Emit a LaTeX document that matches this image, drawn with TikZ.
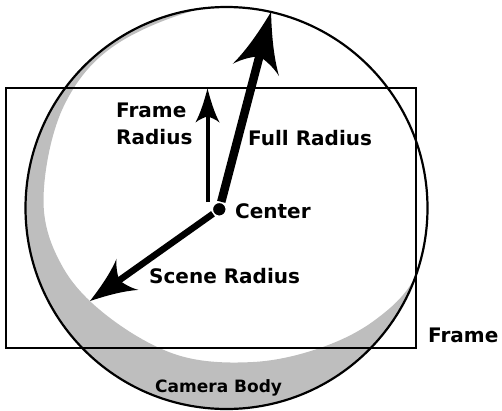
\documentclass[tikz,border=0pt]{standalone}
\usepackage{fontspec}
\setmainfont{DejaVu Sans}
\usetikzlibrary{arrows.meta}
\definecolor{bodygray}{RGB}{190,190,190}
\newdimen\myarrtmp
\pgfdeclarearrow{
  name = Barb,
  parameters = {\the\pgfarrowlength,\the\pgfarrowwidth,\the\pgfarrowinset},
  setup code = {
    \pgfarrowssettipend{0pt}
    \myarrtmp=-\pgfarrowlength
    \advance\myarrtmp by \pgfarrowinset
    \advance\myarrtmp by 1pt
    \pgfarrowssetlineend{\myarrtmp}
    \pgfarrowssetbackend{-\pgfarrowlength}
    \pgfarrowssetvisualbackend{-\pgfarrowlength}
    \pgfarrowshullpoint{0pt}{0pt}
    \pgfarrowshullpoint{-\pgfarrowlength}{.5\pgfarrowwidth}
    \pgfarrowshullpoint{-\pgfarrowlength}{-.5\pgfarrowwidth}
    \pgfarrowssavethe\pgfarrowlength
    \pgfarrowssavethe\pgfarrowwidth
    \pgfarrowssavethe\pgfarrowinset
  },
  drawing code = {
    \pgfpathmoveto{\pgfqpoint{0pt}{0pt}}
    \pgfpathcurveto{\pgfpoint{-.35\pgfarrowlength}{.13\pgfarrowwidth}}{\pgfpoint{-.7\pgfarrowlength}{.28\pgfarrowwidth}}{\pgfpoint{-\pgfarrowlength}{.5\pgfarrowwidth}}
    \pgfpathcurveto{\pgfpoint{-\pgfarrowlength+.5\pgfarrowinset}{.35\pgfarrowwidth}}{\pgfpoint{-\pgfarrowlength+.9\pgfarrowinset}{.12\pgfarrowwidth}}{\pgfpoint{-\pgfarrowlength+\pgfarrowinset}{0pt}}
    \pgfpathcurveto{\pgfpoint{-\pgfarrowlength+.9\pgfarrowinset}{-.12\pgfarrowwidth}}{\pgfpoint{-\pgfarrowlength+.5\pgfarrowinset}{-.35\pgfarrowwidth}}{\pgfpoint{-\pgfarrowlength}{-.5\pgfarrowwidth}}
    \pgfpathcurveto{\pgfpoint{-.7\pgfarrowlength}{-.28\pgfarrowwidth}}{\pgfpoint{-.35\pgfarrowlength}{-.13\pgfarrowwidth}}{\pgfqpoint{0pt}{0pt}}
    \pgfpathclose
    \pgfusepathqfill
  },
  defaults = {length=10pt, width=8pt, inset=3pt}
}
\begin{document}
\begin{tikzpicture}[x=1pt,y=-1pt,
  lbl/.style={inner sep=0pt, anchor=base west, font=\fontsize{20}{27}\selectfont\bfseries},
  dot/.style={circle, fill=black, draw=white, line width=1.5pt, minimum size=14pt, inner sep=0pt},
  fullarrow/.style={line width=8.5pt, -{Barb[length=60pt,width=48pt,inset=14pt]}},
  scenearrow/.style={line width=6.5pt, -{Barb[length=46pt,width=38pt,inset=10pt]}},
  framearrow/.style={line width=4pt, -{Barb[length=34pt,width=24pt,inset=6pt]}}]
\useasboundingbox (0,0) rectangle (502,410);
% camera body crescent
\begin{scope}
  \clip (226.5,208) circle[radius=201];
  \fill[bodygray, even odd rule] (226.5,208) circle[radius=201]
    plot[smooth cycle, tension=0.6] coordinates {(226.5,4) (120,42) (63.7,106.3)
      (43.5,200) (63,267.5) (110,318) (178.6,355.4) (253,362) (320,348)
      (375,320) (415.4,276.7) (440,200) (400,80) (320,20)};
\end{scope}
% frame rectangle
\draw[line width=1.6pt] (6,88) rectangle (416,348);
% full circle
\draw[line width=2.2pt] (226.5,208) circle[radius=201];
% center
\node[dot] (c) at (219.3,209.3) {};
\coordinate (fulltip) at (271,12);
\coordinate (scenetip) at (90,301);
\coordinate (framebase) at (207.5,202);
\coordinate (frametip) at (207.5,88.5);
\draw[fullarrow] (c) -- (fulltip);
\draw[scenearrow] (c) -- (scenetip);
\draw[framearrow] (framebase) -- (frametip);
% labels
\node[lbl, anchor=north west, align=left] (frl) at (116,102.4) {Frame\\Radius};
\node[lbl] (ful) at (248,145) {Full Radius};
\node[lbl] (cen) at (235,218) {Center};
\node[lbl] (scl) at (149,283) {Scene Radius};
\node[lbl] (frm) at (428,342) {Frame};
\node[lbl, font=\fontsize{17}{20}\selectfont\bfseries] (cam) at (155,392) {Camera Body};
\end{tikzpicture}
\end{document}
